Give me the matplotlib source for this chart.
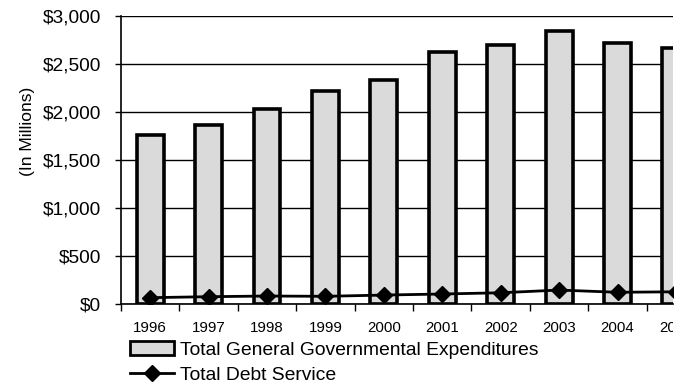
import matplotlib
matplotlib.use("Agg")
import matplotlib.pyplot as plt
from matplotlib.lines import Line2D
from matplotlib.patches import Patch
from matplotlib.transforms import Bbox, TransformedBbox, blended_transform_factory, offset_copy
import numpy as np

plt.rcParams['font.family'] = ['Liberation Sans', 'DejaVu Sans']

years = ['1996', '1997', '1998', '1999', '2000', '2001', '2002', '2003', '2004', '2005']
expenditures = [1760, 1864, 2027, 2214, 2332, 2626, 2695, 2844, 2713, 2667]
debt_service = [69, 79, 86, 83, 96, 107, 120, 148, 125, 130]
yticks = [0, 500, 1000, 1500, 2000, 2500, 3000]
ytick_labels = ['$0', '$500', '$1,000', '$1,500', '$2,000', '$2,500', '$3,000']

W, H = 685, 389
fig = plt.figure(figsize=(W / 100, H / 100), dpi=100)
ax = fig.add_axes([121 / W, (H - 304.3) / H, (673 - 121) / W, (304.3 - 15.7) / H])

x = np.arange(len(years))
ax.bar(x, expenditures, width=0.46, color='#dadada', edgecolor='black', linewidth=2.6,
       zorder=3, clip_on=True)
ax.plot(x, debt_service, color='black', linewidth=2, marker='D', markersize=8,
        zorder=4, clip_on=True)

ax.set_xlim(-0.5, 8.95)
ax.set_ylim(0, 3000)
ax.set_yticks(yticks)
ax.set_yticklabels(ytick_labels, fontsize=13.8)
ax.yaxis.grid(True, color='black', linewidth=1, zorder=0)
ax.set_axisbelow(True)

ax.set_xticks(x[:9])
ax.set_xticklabels(years[:9], fontsize=10.8)
ax.set_xticks(np.arange(-0.5, 9.0, 1.0), minor=True)
ax.tick_params(axis='x', which='major', length=0, pad=12)
ax.tick_params(axis='x', which='minor', length=5, width=1, direction='out', color='black')
ax.tick_params(axis='y', length=4.5, width=1, pad=10, direction='out')

for s in ['top', 'right']:
    ax.spines[s].set_visible(False)
for s in ['left', 'bottom']:
    ax.spines[s].set_linewidth(1.2)

# partially visible last year label, clipped at the image edge like the reference
trans = blended_transform_factory(ax.transData, ax.transAxes)
t = ax.text(9, 0, years[9], fontsize=10.8, ha='center', va='top',
            transform=offset_copy(trans, fig=fig, x=0, y=-12, units='points'))
t.set_clip_on(True)
t.set_clip_box(TransformedBbox(Bbox([[0, 0], [673 / W, 1]]), fig.transFigure))

ax.set_ylabel('(In Millions)', fontsize=12.5)
ax.yaxis.set_label_coords(-0.155, 0.6)

handles = [Patch(facecolor='#dadada', edgecolor='black', linewidth=2),
           Line2D([0], [0], color='black', linewidth=2, marker='D', markersize=8)]
labels = ['Total General Governmental Expenditures', 'Total Debt Service']
fig.legend(handles, labels, loc='upper left', bbox_to_anchor=(130 / W, (H - 341) / H),
           frameon=False, fontsize=13.9, handlelength=2.3, handleheight=0.7,
           handletextpad=0.3, labelspacing=0.4, borderpad=0, borderaxespad=0)

fig.savefig('out.png', dpi=100)
